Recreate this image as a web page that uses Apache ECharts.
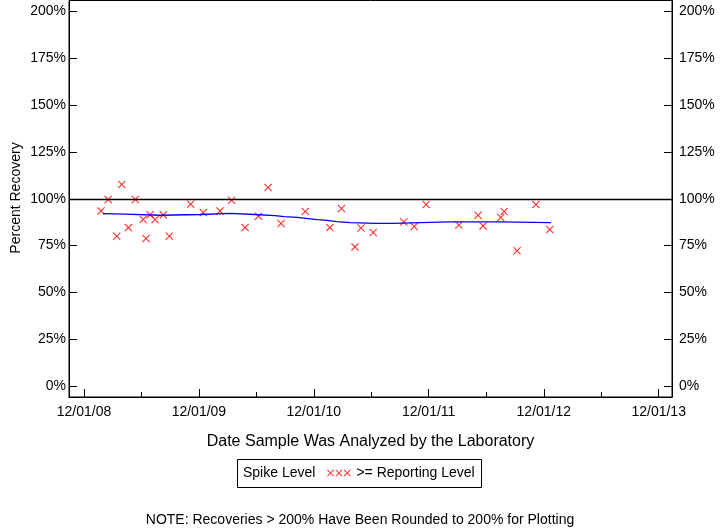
<!DOCTYPE html>
<html><head><meta charset="utf-8">
<script src="https://cdn.jsdelivr.net/npm/echarts@6/dist/echarts.min.js"></script>
<style>html,body{margin:0;padding:0;background:#fff}#c{width:720px;height:528px}</style>
</head><body><div id="c"></div>
<script>
const sampleDates = ['2009-01-24','2009-02-16','2009-03-15','2009-03-31','2009-04-21','2009-05-13','2009-06-07','2009-06-16','2009-06-29','2009-07-15','2009-08-10','2009-08-29','2009-11-05','2009-12-15','2010-02-06','2010-03-15','2010-04-27','2010-06-08','2010-07-09','2010-08-19','2010-11-04','2011-01-21','2011-02-27','2011-04-11','2011-04-30','2011-06-08','2011-09-13','2011-10-16','2011-11-23','2012-03-06','2012-05-06','2012-05-22','2012-07-17','2012-07-28','2012-09-07','2012-11-06','2012-12-20'];
const recoveries = [93.5,99.6,80.0,107.6,84.6,99.6,88.9,78.8,91.4,88.9,91.4,80.0,97.1,92.6,93.5,99.2,84.6,90.7,106.0,86.8,93.2,84.6,94.8,74.3,84.4,82.0,87.6,85.2,96.9,86.0,91.2,85.5,90.0,93.2,72.2,96.9,83.6];
const trendDates = ['2009-01-30','2009-04-10','2009-07-31','2009-12-05','2010-03-10','2010-05-28','2010-07-31','2010-08-29','2010-10-09','2010-11-13','2010-12-12','2011-01-12','2011-02-13','2011-03-27','2011-06-17','2011-08-10','2011-11-04','2012-02-07','2012-07-14','2012-12-24'];
const trendValues = [92.1,91.8,91.2,91.6,92.2,91.6,91.0,90.5,90.0,89.4,88.9,88.4,87.8,87.3,86.9,86.8,87.3,87.6,87.7,87.3];
const majorTickDates = ['2008-12-01','2009-12-01','2010-12-01','2011-12-01','2012-12-01','2013-12-01'];
const xTickLabels = ['12/01/08','12/01/09','12/01/10','12/01/11','12/01/12','12/01/13'];
const minorTickDates = ['2009-06-01','2010-06-01','2011-06-01','2012-06-01','2013-06-01'];
const yTicks = [0,25,50,75,100,125,150,175,200];
const yTickLabels = ['0%','25%','50%','75%','100%','125%','150%','175%','200%'];
const referenceLevel = 100;

const DAY = 864e5;
const ts = d => Date.parse(d);
const majorTs = majorTickDates.map(ts);
const minorTs = minorTickDates.map(ts);
const xMin = majorTs[0] - 47.7 * DAY;
const xMax = majorTs[majorTs.length - 1] + 42.3 * DAY;
const FONT = "'Liberation Sans', Arial, sans-serif";
const xLabel = v => { const i = majorTs.indexOf(v); return i >= 0 ? xTickLabels[i] : ''; };
const yLabel = v => { const i = yTicks.indexOf(v); return i >= 0 ? yTickLabels[i] : ''; };

const xSymbol = 'path://M0,1L1,0L5,4L9,0L10,1L6,5L10,9L9,10L5,6L1,10L0,9L4,5Z';
const legendIcon = 'path://M0,1L1,0L5,4L9,0L10,1L6,5L10,9L9,10L5,6L1,10L0,9L4,5Z' +
  'M12,1L13,0L17,4L21,0L22,1L18,5L22,9L21,10L17,6L13,10L12,9L16,5Z' +
  'M24,1L25,0L29,4L33,0L34,1L30,5L34,9L33,10L29,6L25,10L24,9L28,5Z';

const chart = echarts.init(document.getElementById('c'), null, {renderer: 'canvas'});
const mkX = (extra) => Object.assign({type: 'value', min: xMin, max: xMax, splitLine: {show: false}}, extra);
const mkY = (extra) => Object.assign({
  type: 'value', min: -5.87, max: 205.87, splitLine: {show: false},
  axisLine: {show: true, onZero: false, lineStyle: {color: '#000', width: 1}},
  axisTick: {show: true, inside: true, length: 8, customValues: yTicks.slice(), lineStyle: {color: '#000', width: 1}}
}, extra);
chart.setOption({
  animation: false,
  backgroundColor: '#fff',
  grid: {left: 69, right: 48, top: 0.5, bottom: 131, containLabel: false,
    show: true, borderColor: '#000', borderWidth: 1, backgroundColor: 'transparent'},
  xAxis: [
    mkX({
      position: 'bottom',
      axisLine: {show: true, onZero: false, lineStyle: {color: '#000', width: 1}},
      axisTick: {show: true, inside: true, length: 8, customValues: majorTs, lineStyle: {color: '#000'}},
      axisLabel: {show: true, customValues: majorTs, formatter: xLabel, margin: 8,
        color: '#000', fontSize: 14, fontFamily: FONT},
      name: 'Date Sample Was Analyzed by the Laboratory', nameLocation: 'middle', nameGap: 37,
      nameTextStyle: {color: '#000', fontSize: 16, fontFamily: FONT}
    }),
    mkX({
      position: 'bottom',
      axisLine: {show: false, onZero: false},
      axisTick: {show: true, inside: true, length: 5, customValues: minorTs, lineStyle: {color: '#000'}},
      axisLabel: {show: false}
    })
  ],
  yAxis: [
    mkY({
      position: 'left',
      axisLabel: {show: true, customValues: yTicks.slice(), formatter: yLabel, margin: 3,
        color: '#000', fontSize: 14, fontFamily: FONT}
    }),
    mkY({
      position: 'right',
      axisLabel: {show: true, customValues: yTicks.slice(), formatter: yLabel, margin: 7,
        color: '#000', fontSize: 14, fontFamily: FONT}
    })
  ],
  legend: {
    show: true, left: 327, top: 466, orient: 'horizontal',
    itemWidth: 25, itemHeight: 7, itemGap: 5, padding: 0,
    textStyle: {color: '#000', fontSize: 14, fontFamily: FONT},
    data: [{name: '>= Reporting Level', icon: legendIcon, itemStyle: {color: '#ff0000'}}]
  },
  graphic: [
    {type: 'rect', shape: {x: 237.5, y: 459.5, width: 244, height: 28},
      style: {fill: 'none', stroke: '#000', lineWidth: 1}, silent: true},
    {type: 'text', x: 243, y: 473.5, style: {text: 'Spike Level', fill: '#000', fontSize: 14,
      fontFamily: FONT, verticalAlign: 'middle', align: 'left'}, silent: true},
    {type: 'text', x: 16, y: 198, rotation: Math.PI / 2, style: {text: 'Percent Recovery', fill: '#000',
      fontSize: 14, fontFamily: FONT, align: 'center', verticalAlign: 'middle'}, silent: true},
    {type: 'text', x: 360, y: 520, style: {text: 'NOTE: Recoveries > 200% Have Been Rounded to 200% for Plotting',
      fill: '#000', fontSize: 14, fontFamily: FONT, align: 'center', verticalAlign: 'middle'}, silent: true}
  ],
  series: [
    {
      name: 'Trend', type: 'line', xAxisIndex: 0, yAxisIndex: 0,
      data: trendDates.map((d, i) => [ts(d), trendValues[i]]),
      showSymbol: false, symbol: 'none', lineStyle: {color: '#0000ff', width: 1.3}, silent: true,
      markLine: {silent: true, symbol: 'none', label: {show: false},
        lineStyle: {color: '#000', width: 1.3, type: 'solid'},
        data: [{yAxis: referenceLevel}]}
    },
    {
      name: '>= Reporting Level', type: 'scatter', xAxisIndex: 0, yAxisIndex: 0,
      data: sampleDates.map((d, i) => [ts(d), recoveries[i]]),
      symbol: xSymbol, symbolSize: 8, itemStyle: {color: '#ff0000'}
    }
  ]
});
</script></body></html>
